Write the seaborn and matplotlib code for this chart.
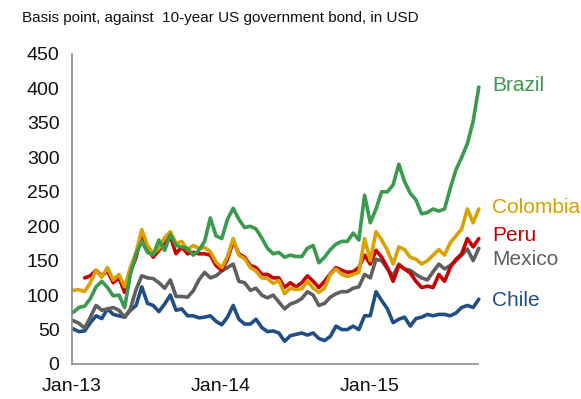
import numpy as np
import pandas as pd
import matplotlib
matplotlib.use("Agg")
import matplotlib.pyplot as plt
import matplotlib.dates as mdates
import matplotlib.transforms as mtransforms
import seaborn as sns

# Fortnightly sovereign spreads over the 10-year US Treasury, basis points
dates = pd.date_range("2013-01-04", periods=72, freq="14D")

brazil = [75, 82, 84, 95, 112, 120, 111, 99, 100, 82, 130, 160, 178, 162, 158, 180,
          165, 188, 172, 170, 168, 158, 165, 178, 212, 186, 182, 210, 226, 210, 198, 200,
          196, 183, 168, 160, 162, 155, 158, 156, 156, 168, 172, 147, 155, 166, 174, 178,
          178, 190, 180, 245, 205, 225, 250, 250, 260, 290, 265, 248, 238, 218, 220, 225,
          222, 225, 255, 282, 300, 320, 352, 402]

colombia = [107, 108, 105, 118, 136, 126, 140, 122, 130, 112, 140, 162, 195, 172, 160, 168,
            183, 192, 175, 178, 166, 172, 168, 169, 163, 148, 140, 156, 182, 158, 153, 140,
            135, 125, 124, 117, 121, 102, 110, 108, 109, 120, 110, 104, 110, 130, 138, 130,
            127, 130, 133, 182, 150, 192, 180, 165, 145, 170, 166, 155, 152, 145, 150, 158,
            166, 158, 176, 186, 196, 225, 205, 225]

peru = [np.nan, np.nan, 125, 128, 136, 128, 135, 118, 125, 104, 133, 155, 190, 168, 155, 165,
        175, 185, 160, 170, 160, 162, 160, 160, 158, 143, 136, 152, 178, 160, 155, 143,
        140, 130, 130, 125, 125, 111, 118, 112, 118, 128, 120, 111, 120, 131, 140, 136,
        133, 134, 140, 158, 145, 165, 155, 140, 120, 143, 138, 132, 120, 111, 113, 111,
        130, 120, 140, 152, 160, 182, 170, 182]

mexico = [63, 59, 52, 68, 85, 78, 80, 82, 78, 68, 80, 108, 128, 125, 124, 118,
          110, 122, 98, 98, 97, 106, 122, 133, 125, 128, 135, 140, 145, 120, 118, 107,
          110, 100, 96, 100, 90, 80, 87, 90, 95, 105, 100, 85, 88, 97, 102, 105,
          105, 110, 112, 130, 125, 152, 150, 138, 128, 145, 138, 136, 130, 125, 122, 134,
          145, 138, 143, 150, 158, 167, 150, 168]

chile = [51, 47, 48, 60, 70, 66, 80, 72, 70, 68, 78, 85, 112, 88, 85, 76,
         87, 100, 78, 80, 70, 70, 67, 68, 70, 62, 57, 68, 85, 65, 58, 58,
         65, 53, 47, 48, 45, 33, 41, 43, 45, 42, 45, 37, 34, 40, 55, 50,
         50, 55, 50, 70, 70, 105, 92, 80, 60, 65, 68, 55, 66, 68, 72, 70,
         72, 72, 70, 74, 82, 85, 82, 94]

countries = ["Chile", "Mexico", "Peru", "Colombia", "Brazil"]
colors = {"Brazil": "#3a9a4d", "Colombia": "#d9a200", "Peru": "#c80000",
          "Mexico": "#5f5f5f", "Chile": "#1f4f86"}
label_y = {"Brazil": 404, "Colombia": 227, "Peru": 187, "Mexico": 152, "Chile": 92}

y_ticks = list(range(0, 451, 50))
x_ticks = ["2013-01-01", "2014-01-01", "2015-01-01"]
x_tick_labels = ["Jan-13", "Jan-14", "Jan-15"]
title = "Basis point, against  10-year US government bond, in USD"

series = {"Brazil": brazil, "Colombia": colombia, "Peru": peru,
          "Mexico": mexico, "Chile": chile}
df = pd.concat(
    [pd.DataFrame({"date": dates, "spread": vals, "country": name})
     for name, vals in series.items()],
    ignore_index=True,
).dropna()

sns.set_style("white")
plt.rcParams["font.family"] = ["Liberation Sans", "DejaVu Sans"]

fig = plt.figure(figsize=(5.81, 3.99), dpi=100)
ax = fig.add_axes([72 / 581, 1 - 364 / 399, 406 / 581, 310 / 399])

sns.lineplot(data=df, x="date", y="spread", hue="country", hue_order=countries,
             palette=colors, linewidth=2.6, estimator=None, sort=True,
             legend=False, ax=ax)
for line in ax.get_lines():
    line.set_clip_on(False)
    line.set_solid_joinstyle("round")

ax.set_xlim(pd.Timestamp("2013-01-01"), pd.Timestamp("2015-09-23"))
ax.set_ylim(0, 450)
ax.set_yticks(y_ticks)
ax.set_xticks([pd.Timestamp(d) for d in x_ticks])
ax.set_xticklabels(x_tick_labels)
ax.set_xlabel("")
ax.set_ylabel("")

for side in ("top", "right"):
    ax.spines[side].set_visible(False)
for side in ("left", "bottom"):
    ax.spines[side].set_color("#8c8c8c")
    ax.spines[side].set_linewidth(1.2)
ax.tick_params(axis="both", which="major", direction="out", length=5, width=1.2,
               color="#8c8c8c", labelsize=14, labelcolor="#111111")
ax.tick_params(axis="y", pad=4)
ax.tick_params(axis="x", pad=5)
ax.grid(False)

trans = mtransforms.blended_transform_factory(ax.transAxes, ax.transData)
for name in countries:
    ax.text(1.034, label_y[name], name, transform=trans, color=colors[name],
            fontsize=15, ha="left", va="center")

fig.text(22 / 581, 1 - 18 / 399, title, fontsize=11, ha="left", va="center",
         color="#111111")

fig.savefig("out.png", dpi=100)
